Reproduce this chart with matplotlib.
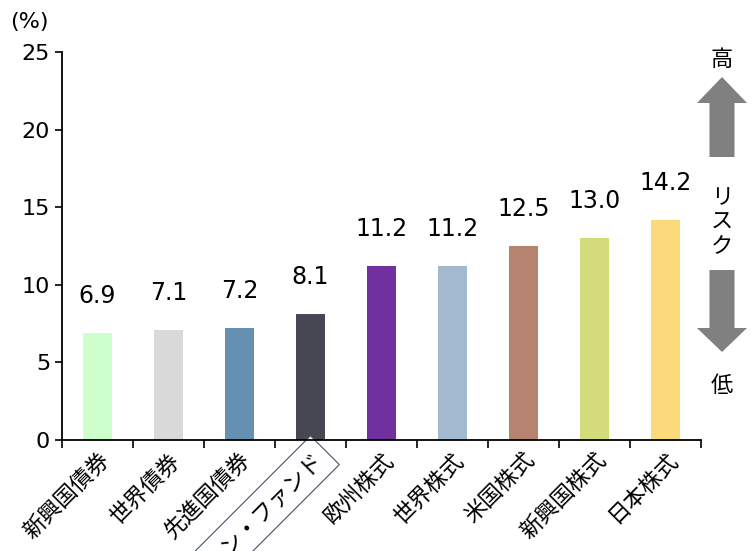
import numpy as np
import matplotlib.pyplot as plt
from matplotlib.patches import FancyArrow

plt.rcParams['font.family'] = ['DejaVu Sans', 'Noto Sans CJK JP']

categories = ['新興国債券', '世界債券', '先進国債券', 'アロケーション・ファンド',
              '欧州株式', '世界株式', '米国株式', '新興国株式', '日本株式']
risk = [6.9, 7.1, 7.2, 8.1, 11.2, 11.2, 12.5, 13.0, 14.2]
bar_colors = ['#CCFFCC', '#D9D9D9', '#6690B2', '#474753', '#7030A0',
              '#A3B9CF', '#B5836F', '#D4DB7A', '#FADA7A']
yticks = [0, 5, 10, 15, 20, 25]

fig = plt.figure(figsize=(7.56, 5.51), dpi=100)
ax = fig.add_axes([62 / 756, 111 / 551, 639 / 756, 388 / 551])

x = np.arange(len(categories))
ax.bar(x, risk, width=0.41, color=bar_colors)
for xi, v in zip(x, risk):
    ax.text(xi, v + 1.6, f'{v:.1f}', ha='center', va='bottom', fontsize=17)

ax.set_xlim(-0.5, len(categories) - 0.5)
ax.set_ylim(0, 25)
ax.set_yticks(yticks)
ax.tick_params(axis='y', labelsize=16, length=5, width=1.2, direction='out')
ax.set_xticks(x)
ax.set_xticklabels(categories, rotation=45, ha='right', rotation_mode='anchor',
                   fontsize=16, family=['Noto Sans CJK JP'])
ax.tick_params(axis='x', which='major', length=0, pad=6)
ax.set_xticks(np.arange(-0.5, len(categories)), minor=True)
ax.tick_params(axis='x', which='minor', length=6, width=1.2)
for s in ['top', 'right']:
    ax.spines[s].set_visible(False)
for s in ['left', 'bottom']:
    ax.spines[s].set_linewidth(1.3)

# boxed label for the fund, shifted slightly right like the original
lbl = ax.get_xticklabels()[3]
lbl.set_bbox(dict(boxstyle='square,pad=0.4', facecolor='white',
                  edgecolor='#44546A', linewidth=0.8))

fig.text(10 / 756, 1 - 22 / 551, '(%)', fontsize=16, va='center')

# risk arrows on the right
ov = fig.add_axes([0, 0, 1, 1])
ov.set_xlim(0, 756)
ov.set_ylim(551, 0)
ov.axis('off')
ov.add_patch(FancyArrow(722, 157, 0, -80, width=25, head_width=50,
                        head_length=26, length_includes_head=True,
                        color='#808080', lw=0))
ov.add_patch(FancyArrow(722, 270, 0, 82, width=25, head_width=50,
                        head_length=24, length_includes_head=True,
                        color='#808080', lw=0))
ov.text(722, 59, '高', ha='center', va='center', fontsize=16,
        family=['Noto Sans CJK JP'])
ov.text(722, 386, '低', ha='center', va='center', fontsize=16,
        family=['Noto Sans CJK JP'])
ov.text(722, 222, 'リ\nス\nク', ha='center', va='center', fontsize=16,
        linespacing=1.1, family=['Noto Sans CJK JP'])

fig.savefig('out.png', dpi=100)
